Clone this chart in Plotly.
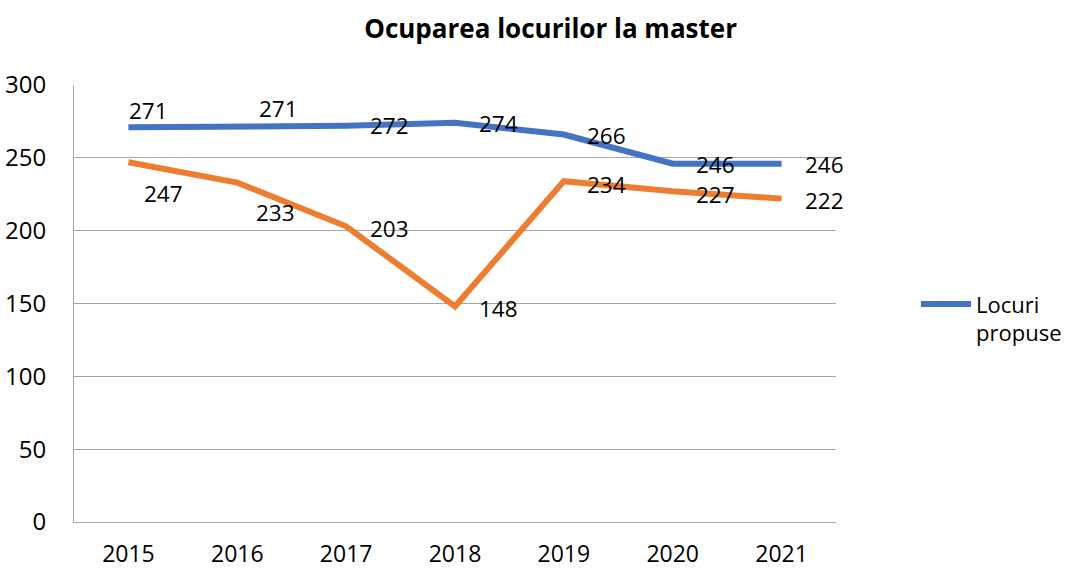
import plotly.graph_objects as go

years = ["2015", "2016", "2017", "2018", "2019", "2020", "2021"]
locuri_propuse = [271, 271, 272, 274, 266, 246, 246]
locuri_ocupate = [247, 233, 203, 148, 234, 227, 222]

blue = "#4472C4"
orange = "#ED7D31"
font_family = "Open Sans"

fig = go.Figure()
fig.add_trace(go.Scatter(x=years, y=locuri_propuse, mode="lines", name="Locuri<br>propuse",
                         line=dict(color=blue, width=6), showlegend=True))
fig.add_trace(go.Scatter(x=years, y=locuri_ocupate, mode="lines", name="Locuri ocupate",
                         line=dict(color=orange, width=6), showlegend=False))

# label offsets (pixels) per point
blue_off = [(20, 17), (41, 19), (43, 0), (43, -1), (43, -1), (43, -1), (43, -1)]
orange_off = [(35, -31), (38, -30), (43, -2), (43, -2), (43, -3), (43, -3), (43, -2)]

annotations = []
for i, (v, (dx, dy)) in enumerate(zip(locuri_propuse, blue_off)):
    annotations.append(dict(x=i, y=v, xref="x", yref="y", text=str(v), showarrow=False,
                            xshift=dx, yshift=dy,
                            font=dict(size=22.5, color="#000000", family=font_family)))
for i, (v, (dx, dy)) in enumerate(zip(locuri_ocupate, orange_off)):
    annotations.append(dict(x=i, y=v, xref="x", yref="y", text=str(v), showarrow=False,
                            xshift=dx, yshift=dy,
                            font=dict(size=22.5, color="#000000", family=font_family)))

fig.update_layout(
    width=1065, height=568,
    paper_bgcolor="white", plot_bgcolor="white",
    margin=dict(l=74, r=229, t=85, b=46, autoexpand=False),
    font=dict(family=font_family, size=22, color="#000000"),
    title=dict(text="<b>Ocuparea locurilor la master</b>", x=0.517, xanchor="center",
               y=0.95, yanchor="middle", font=dict(size=26, family=font_family, color="#000000")),
    xaxis=dict(type="category", range=[-0.5, len(years) - 0.5], automargin=False,
               showgrid=False, showline=True, linecolor="#a6a6a6", linewidth=1,
               ticks="", tickfont=dict(size=23), ticklabelstandoff=11),
    yaxis=dict(range=[0, 300], dtick=50, automargin=False, showgrid=True, gridcolor="#a6a6a6",
               gridwidth=1, showline=True, linecolor="#a6a6a6", linewidth=1, zeroline=False,
               ticks="", tickfont=dict(size=24), ticklabelstandoff=22),
    legend=dict(x=1.105, y=0.465, xanchor="left", yanchor="middle", valign="top",
                font=dict(size=22), bgcolor="rgba(0,0,0,0)", itemwidth=50),
    annotations=annotations,
)

fig.write_html("out.html", config={"displayModeBar": False},
               post_script="document.body.style.margin='0';document.body.style.overflow='hidden';")
